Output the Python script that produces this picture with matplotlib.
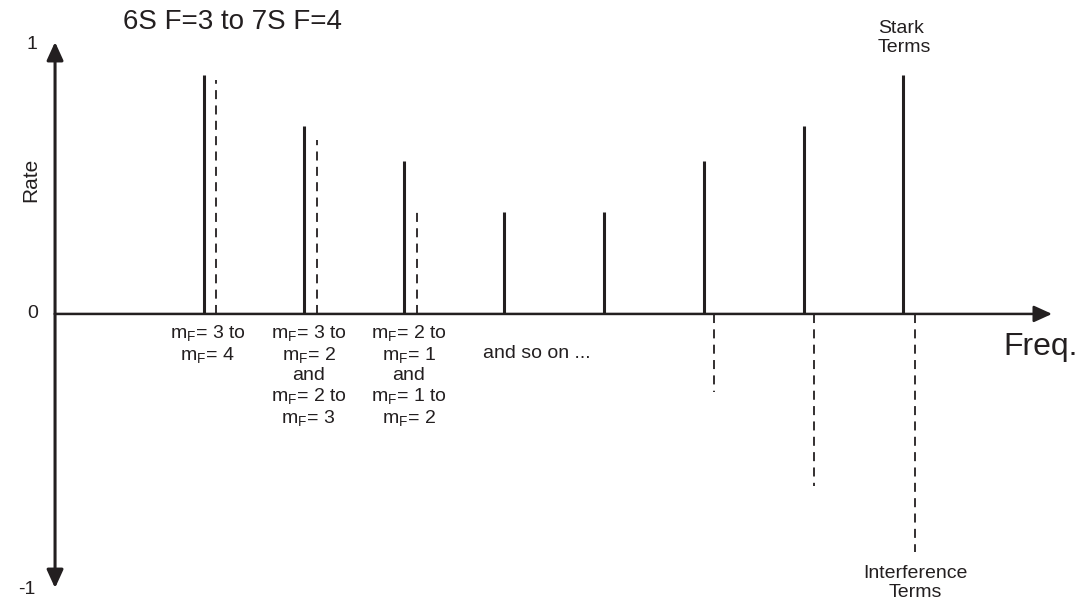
import matplotlib
matplotlib.use("Agg")
import matplotlib.pyplot as plt

plt.rcParams['font.family'] = ['Liberation Sans', 'DejaVu Sans']
plt.rcParams['mathtext.fontset'] = 'custom'
plt.rcParams['mathtext.rm'] = 'Liberation Sans'
plt.rcParams['mathtext.it'] = 'Liberation Sans'
plt.rcParams['mathtext.bf'] = 'Liberation Sans:bold'

# ---- data ----
positions = [1, 2, 3, 4, 5, 6, 7, 8]
stark_rates = [0.89, 0.70, 0.57, 0.38, 0.38, 0.57, 0.70, 0.89]
interf_positions = [1.12, 2.13, 3.13, 6.10, 7.10, 8.12]
interf_rates = [0.87, 0.647, 0.387, -0.29, -0.64, -0.885]
group_labels = [
    "m$_\\mathregular{F}$= 3 to\nm$_\\mathregular{F}$= 4",
    "m$_\\mathregular{F}$= 3 to\nm$_\\mathregular{F}$= 2\nand\nm$_\\mathregular{F}$= 2 to\nm$_\\mathregular{F}$= 3",
    "m$_\\mathregular{F}$= 2 to\nm$_\\mathregular{F}$= 1\nand\nm$_\\mathregular{F}$= 1 to\nm$_\\mathregular{F}$= 2",
]
group_label_x = [1.033, 2.044, 3.045]
title = "6S F=3 to 7S F=4"

C = '#231f20'

fig = plt.figure(figsize=(10.86, 6.05), dpi=100)
ax = fig.add_axes([0, 0, 1, 1])
ax.set_xlim(-1.044, 9.827)
ax.set_ylim(-1.082, 1.167)
ax.axis('off')

# axes with arrows
aprops = dict(arrowstyle='-|>,head_length=0.55,head_width=0.25',
              lw=2.2, color=C, mutation_scale=20, shrinkA=0, shrinkB=0)
ax.annotate('', xy=(-0.493, 1.011), xytext=(-0.493, 0), arrowprops=aprops)
ax.annotate('', xy=(-0.493, -1.019), xytext=(-0.493, 0), arrowprops=aprops)
hprops = dict(aprops, lw=1.8)
ax.annotate('', xy=(9.487, 0), xytext=(-0.493, 0), arrowprops=hprops)

# lines
ax.vlines(positions, 0, stark_rates, colors=C, lw=2.2)
ax.vlines(interf_positions, 0, interf_rates, colors=C, lw=1.3,
          linestyles=(0, (5, 3.5)))

# texts
ax.text(-0.724, 1.0, "1", ha='center', va='center', fontsize=14, color=C)
ax.text(-0.714, 0.0, "0", ha='center', va='center', fontsize=14, color=C)
ax.text(-0.78, -1.025, "-1", ha='center', va='center', fontsize=14, color=C)
ax.text(-0.734, 0.50, "Rate", ha='center', va='center', rotation=90,
        fontsize=15, color=C)
ax.text(0.187, 1.085, title, ha='left', va='center', fontsize=20, color=C)
ax.text(8.996, -0.152, "Freq.", ha='left', va='baseline', fontsize=23, color=C)

for lx, lab in zip(group_label_x, group_labels):
    ax.text(lx, -0.035, lab, ha='center', va='top', fontsize=14,
            linespacing=1.13, multialignment='center', color=C)
ax.text(4.33, -0.148, "and so on ...", ha='center', va='center',
        fontsize=14, color=C)

ax.text(7.745, 1.093, "Stark\nTerms", ha='left', va='top', fontsize=14,
        linespacing=1.15, color=C)
ax.text(8.12, -0.933, "Interference\nTerms", ha='center', va='top', fontsize=14,
        linespacing=1.15, color=C)

fig.savefig("out.png", dpi=100)
